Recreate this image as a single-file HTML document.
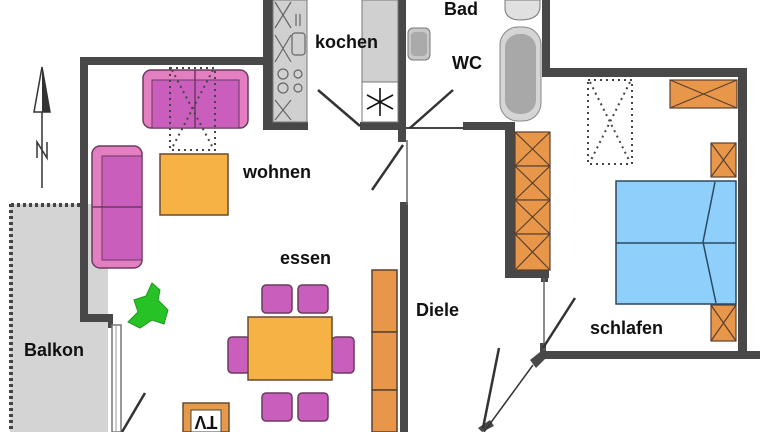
<!DOCTYPE html>
<html><head><meta charset="utf-8"><style>
html,body{margin:0;padding:0;background:#fff;}
svg{display:block;}
text{font-family:"Liberation Sans",sans-serif;font-weight:bold;font-size:18px;fill:#111;}
</style></head><body>
<svg width="768" height="432" viewBox="0 0 768 432" xmlns="http://www.w3.org/2000/svg">
<rect x="10" y="204" width="98" height="228" fill="#d4d4d4"/>
<line x1="11" y1="204" x2="11" y2="432" stroke="#444" stroke-width="4" stroke-dasharray="3,3"/>
<line x1="11" y1="205" x2="80" y2="205" stroke="#444" stroke-width="4" stroke-dasharray="3,3"/>
<g fill="#484848">
<rect x="80" y="57" width="192" height="8"/>
<rect x="80" y="57" width="8" height="265"/>
<rect x="80" y="314" width="32" height="8"/>
<rect x="108" y="314" width="5" height="14"/>
<rect x="263" y="0" width="10" height="130"/>
<rect x="263" y="122" width="45" height="8"/>
<rect x="360" y="122" width="45" height="8"/>
<rect x="398" y="0" width="8" height="142"/>
<rect x="400" y="202" width="8" height="230"/>
<rect x="463" y="122" width="45" height="8"/>
<rect x="542" y="0" width="8" height="76"/>
<rect x="542" y="68" width="205" height="9"/>
<rect x="738" y="68" width="9" height="290"/>
<rect x="540" y="351" width="220" height="8"/>
<rect x="505" y="122" width="10" height="156"/>
<rect x="505" y="270" width="44" height="8"/>
<rect x="541" y="270" width="7" height="12"/>
<rect x="540" y="343" width="6" height="12"/>
<polygon points="530,360 540,352 546,358 536,368"/>
<polygon points="478,428 490,420 494,426 482,432"/>
</g>
<line x1="405" y1="128" x2="465" y2="128" stroke="#444" stroke-width="2"/>
<line x1="407" y1="140" x2="407" y2="205" stroke="#666" stroke-width="1.5"/>
<line x1="544" y1="278" x2="544" y2="350" stroke="#666" stroke-width="1.5"/>
<rect x="112" y="325" width="9" height="107" fill="#fff" stroke="#777" stroke-width="1.5"/>
<line x1="116" y1="325" x2="116" y2="432" stroke="#999" stroke-width="1"/>
<g stroke="#333" stroke-width="2.5" fill="none">
<line x1="318" y1="90" x2="360" y2="126"/>
<line x1="453" y1="90" x2="410" y2="128"/>
<line x1="372" y1="190" x2="403" y2="145"/>
<line x1="145" y1="393" x2="122" y2="432"/>
<line x1="575" y1="298" x2="543" y2="348"/>
<line x1="499" y1="348" x2="483" y2="428"/>
</g>
<line x1="533" y1="365" x2="484" y2="432" stroke="#333" stroke-width="1.5"/>
<rect x="273" y="0" width="34" height="122" fill="#d0d0d0" stroke="#777" stroke-width="1"/>
<g stroke="#666" stroke-width="1.2" fill="none">
<path d="M275,2 L291,28 M291,2 L275,28 M275,35 L291,62 M291,35 L275,62 M275,100 L291,120 M291,100 L275,120"/>
<rect x="292" y="33" width="13" height="22" rx="3"/>
<circle cx="283" cy="74" r="5"/><circle cx="283" cy="88" r="5"/><circle cx="298" cy="74" r="4"/><circle cx="298" cy="88" r="4"/>
<line x1="296" y1="14" x2="296" y2="26"/><line x1="300" y1="14" x2="300" y2="26"/>
</g>
<rect x="362" y="0" width="36" height="82" fill="#d0d0d0" stroke="#777" stroke-width="1"/>
<rect x="362" y="82" width="36" height="40" fill="#fff" stroke="#777" stroke-width="1"/>
<g stroke="#111" stroke-width="1.6"><line x1="380" y1="88" x2="380" y2="116"/><line x1="367" y1="95" x2="393" y2="109"/><line x1="367" y1="109" x2="393" y2="95"/></g>
<rect x="408" y="28" width="22" height="32" rx="5" fill="#c8c8c8" stroke="#777"/>
<rect x="411" y="32" width="16" height="24" rx="4" fill="#aaa"/>
<path d="M505,0 L505,10 Q507,20 520,20 Q540,20 540,6 L540,0 Z" fill="#e0e0e0" stroke="#777"/>
<rect x="500" y="27" width="41" height="94" rx="18" fill="#d5d5d5" stroke="#888"/>
<rect x="505" y="34" width="31" height="80" rx="14" fill="#a8a8a8"/>
<rect x="143" y="70" width="105" height="58" rx="8" fill="#e37fc0" stroke="#6a3a60" stroke-width="1.5"/>
<rect x="152" y="80" width="87" height="48" fill="#c95ebd" stroke="#6a3a60" stroke-width="1"/>
<line x1="195" y1="70" x2="195" y2="128" stroke="#6a3a60" stroke-width="1.5"/>
<rect x="170" y="68" width="45" height="82" fill="none" stroke="#444" stroke-width="2" stroke-dasharray="2,4"/>
<path d="M172,70 L213,148 M213,70 L172,148" stroke="#444" stroke-width="2" stroke-dasharray="2,4"/>
<rect x="92" y="146" width="50" height="122" rx="8" fill="#e37fc0" stroke="#6a3a60" stroke-width="1.5"/>
<rect x="102" y="156" width="40" height="104" fill="#c95ebd" stroke="#6a3a60" stroke-width="1"/>
<line x1="92" y1="207" x2="142" y2="207" stroke="#6a3a60" stroke-width="1.5"/>
<rect x="160" y="154" width="68" height="61" fill="#f6b245" stroke="#6a4a30" stroke-width="1.5"/>
<path d="M152,283 L160,290 L158,300 L168,310 L164,324 L152,320 L140,328 L128,322 L138,312 L134,300 L146,296 Z" fill="#26c226" stroke="#1a9a1a"/>
<g fill="#c95ebd" stroke="#6a3a60" stroke-width="1.5">
<rect x="262" y="285" width="30" height="28" rx="4"/><rect x="298" y="285" width="30" height="28" rx="4"/>
<rect x="262" y="393" width="30" height="28" rx="4"/><rect x="298" y="393" width="30" height="28" rx="4"/>
<rect x="228" y="337" width="22" height="36" rx="4"/><rect x="332" y="337" width="22" height="36" rx="4"/>
</g>
<rect x="248" y="317" width="84" height="63" fill="#f6b245" stroke="#6a4a30" stroke-width="1.5"/>
<rect x="183" y="403" width="46" height="29" fill="#e59a4a" stroke="#6a4a30" stroke-width="1.5"/>
<rect x="191" y="410" width="30" height="22" fill="#fff" stroke="#444"/>
<text x="206" y="426" font-size="13" text-anchor="middle" transform="rotate(180 206 421)">TV</text>
<g fill="#e8974a" stroke="#5a4030" stroke-width="1.5">
<rect x="372" y="270" width="25" height="62"/><rect x="372" y="332" width="25" height="58"/><rect x="372" y="390" width="25" height="42"/>
</g>
<g fill="#e8974a" stroke="#5a4030" stroke-width="1.2">
<rect x="515" y="132" width="35" height="34"/><rect x="515" y="166" width="35" height="34"/><rect x="515" y="200" width="35" height="34"/><rect x="515" y="234" width="35" height="36"/>
<path d="M515,132 L550,166 M550,132 L515,166 M515,166 L550,200 M550,166 L515,200 M515,200 L550,234 M550,200 L515,234 M515,234 L550,270 M550,234 L515,270" fill="none"/>
<rect x="670" y="80" width="67" height="28"/><path d="M670,80 L737,108 M737,80 L670,108" fill="none"/>
<rect x="711" y="143" width="25" height="34"/><path d="M711,143 L736,177 M736,143 L711,177" fill="none"/>
<rect x="711" y="305" width="25" height="36"/><path d="M711,305 L736,341 M736,305 L711,341" fill="none"/>
</g>
<rect x="588" y="80" width="44" height="84" fill="none" stroke="#444" stroke-width="2" stroke-dasharray="2,4"/>
<path d="M590,82 L630,162 M630,82 L590,162" stroke="#444" stroke-width="2" stroke-dasharray="2,4"/>
<rect x="616" y="181" width="120" height="123" fill="#8ecffc" stroke="#2a4a60" stroke-width="1.5"/>
<line x1="616" y1="243" x2="736" y2="243" stroke="#2a4a60" stroke-width="1.5"/>
<path d="M715,182 L703,242 L716,303" fill="none" stroke="#2a4a60" stroke-width="1.5"/>
<line x1="42" y1="95" x2="42" y2="188" stroke="#333" stroke-width="1.5"/>
<polygon points="42,67 34,112 50,112" fill="#fff" stroke="#333" stroke-width="1.5"/>
<polygon points="42,67 42,112 50,112" fill="#333"/>
<path d="M37,158 L37,142 L47,158 L47,142" fill="none" stroke="#333" stroke-width="1.5"/>
<text x="315" y="48">kochen</text>
<text x="444" y="15">Bad</text>
<text x="452" y="69">WC</text>
<text x="243" y="178">wohnen</text>
<text x="280" y="264">essen</text>
<text x="416" y="316">Diele</text>
<text x="24" y="356">Balkon</text>
<text x="590" y="334">schlafen</text>
</svg>
</body></html>
